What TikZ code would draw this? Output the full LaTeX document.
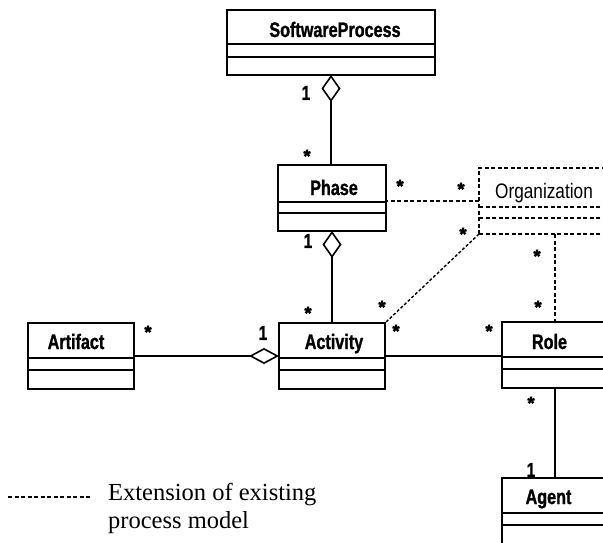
\documentclass[tikz,border=0pt]{standalone}
\usepackage{fontspec}
\setmainfont{Liberation Serif}
\newfontfamily\clsfont[FakeStretch=0.77,BoldFeatures={FakeBold=1.2}]{Liberation Sans}
\newfontfamily\starfont[BoldFeatures={FakeBold=3}]{Liberation Sans}
\newfontfamily\orgfont[FakeStretch=0.82]{Liberation Sans}
\usetikzlibrary{arrows.meta,calc}
\newcommand{\umlclass}[8]{%
  \node[#2, minimum width=#5pt, minimum height=#6pt] (#1) at (#3,#4) {};
  \draw[#2sep] ($(#1.north west)+(0,#7)$) -- ($(#1.north east)+(0,#7)$);
  \draw[#2sep] ($(#1.north west)+(0,#8)$) -- ($(#1.north east)+(0,#8)$);
}
\begin{document}
\begin{tikzpicture}[x=1pt,y=-1pt,
  cls/.style={draw, line width=1.7pt, inner sep=0pt, outer sep=0pt, anchor=north west},
  ext/.style={draw, line width=1.5pt, inner sep=0pt, outer sep=0pt, anchor=north west, dash pattern=on 4pt off 2.5pt},
  clssep/.style={line width=1.3pt},
  extsep/.style={line width=1.3pt, dash pattern=on 4pt off 2.5pt},
  cname/.style={font=\clsfont\bfseries\fontsize{21}{24}\selectfont, anchor=base, inner sep=0pt},
  oname/.style={font=\orgfont\fontsize{21}{24}\selectfont, anchor=base west, inner sep=0pt},
  star/.style={font=\starfont\bfseries\fontsize{18}{22}\selectfont, inner sep=0pt, yshift=-4pt},
  one/.style={font=\clsfont\bfseries\fontsize{20}{22}\selectfont, inner sep=0pt},
  assoc/.style={line width=1.6pt},
  extline/.style={line width=1.4pt, dash pattern=on 4pt off 2.5pt},
  aggv/.style={{Diamond[open,length=27pt,width=19pt]}-},
  aggh/.style={{Diamond[open,length=30pt,width=16pt]}-},
  legend/.style={font=\fontsize{24.5}{28}\selectfont, align=left, anchor=north west, inner sep=0pt},
]
\useasboundingbox (0,0) rectangle (603,543);
\clip (0,0) rectangle (603,543);

% classes
\umlclass{sp}{cls}{227}{10}{208}{65}{34}{47}
\node[cname] (spname) at (335,37) {SoftwareProcess};
\umlclass{phase}{cls}{278}{165}{108}{66}{37}{48}
\node[cname] (phasename) at (334,195) {Phase};
\umlclass{org}{ext}{479}{168}{170}{66}{39}{50}
\node[oname] (orgname) at (495,198) {Organization};
\umlclass{artifact}{cls}{28}{323}{106}{66}{35}{47}
\node[cname] (artifactname) at (76,349) {Artifact};
\umlclass{activity}{cls}{279}{323}{106}{66}{35}{47}
\node[cname] (activityname) at (334,349) {Activity};
\umlclass{role}{cls}{502}{322}{106}{66}{35}{47}
\node[cname] (rolename) at (549.5,349) {Role};
\umlclass{agent}{cls}{502}{478}{106}{90}{35}{47}
\node[cname] (agentname) at (548.5,504) {Agent};

% connectors
\draw[assoc, aggv] (sp.south) -- (sp.south |- phase.north);
\draw[assoc, aggv] (phase.south) -- (phase.south |- activity.north);
\draw[assoc, aggh] (activity.west) -- (artifact.east);
\draw[assoc] (activity.east) -- (activity.east -| role.west);
\draw[assoc] (role.south) -- (agent.north);
\draw[extline] (org.west) -- (org.west -| phase.east);
\draw[extline, dash pattern=on 3pt off 2pt] (org.south west) -- (activity.north east);
\draw[extline] (org.south -| role.north) -- (role.north);

% multiplicities
\node[one] (m1) at (306,93) {1};
\node[star] (m2) at (307,152) {*};
\node[star] (m3) at (400,182) {*};
\node[star] (m4) at (461,185) {*};
\node[star] (m5) at (463,230) {*};
\node[star] (m6) at (382,303) {*};
\node[star] (m7) at (537,252) {*};
\node[star] (m8) at (538,303) {*};
\node[one] (m9) at (308,241) {1};
\node[star] (m10) at (308,309) {*};
\node[star] (m11) at (148,328) {*};
\node[one] (m12) at (263,333) {1};
\node[star] (m13) at (396,327) {*};
\node[star] (m14) at (489,327) {*};
\node[star] (m15) at (531,399) {*};
\node[one] (m16) at (531,470) {1};

% legend
\coordinate (l1) at (8,497);
\coordinate (l2) at (92,497);
\draw[extline, line width=1.2pt] (l1) -- (l2);
\node[legend] (legendtext) at (108,483) {Extension of existing\\process model};
\end{tikzpicture}
\end{document}
